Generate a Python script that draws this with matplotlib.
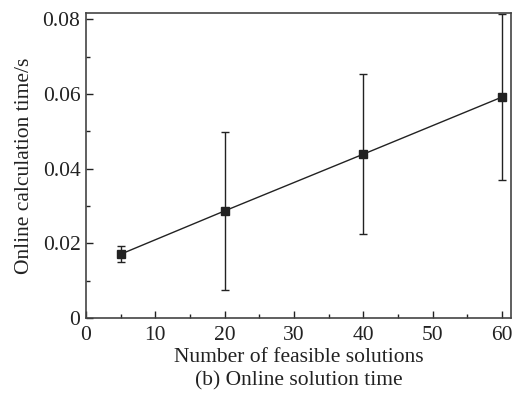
import numpy as np
from matplotlib import pyplot as plt

plt.rcParams['font.family'] = ['Liberation Serif', 'DejaVu Serif']

n = np.array([5, 20, 40, 60])
t = np.array([0.0171, 0.0287, 0.0439, 0.0592])
err = np.array([0.0021, 0.0211, 0.0215, 0.0223])

fig = plt.figure(figsize=(5.14, 3.98), dpi=100)
ax = fig.add_axes([0.1673, 0.201, 0.8267, 0.766])

ax.errorbar(n, t, yerr=err, color='#222222', marker='s', markersize=6,
            linewidth=1, elinewidth=1, capsize=3, capthick=1, clip_on=True)

ax.set_xlim(0, 61.3)
ax.set_ylim(0, 0.0817)
ax.set_xticks([0, 10, 20, 30, 40, 50, 60])
ax.set_xticks(np.arange(5, 61, 10), minor=True)
ax.set_yticks([0, 0.02, 0.04, 0.06, 0.08])
ax.set_yticklabels(['0', '0.02', '0.04', '0.06', '0.08'])
ax.set_yticks([0.01, 0.03, 0.05, 0.07], minor=True)
ax.tick_params(which='both', direction='in', labelsize=15.5, width=1, colors='#222222')
ax.tick_params(which='major', length=5, pad=4)
ax.tick_params(axis='x', which='major', pad=6)
ax.tick_params(which='minor', length=3)
for s in ax.spines.values():
    s.set_color('#444444')
    s.set_linewidth(1.2)

ax.set_ylabel("Online calculation time/s", fontsize=15.5, color='#222222', labelpad=6)
ax.set_xlabel("Number of feasible solutions\n(b) Online solution time", fontsize=15.5,
              color='#222222', linespacing=1.3, labelpad=2)

fig.savefig("out.png", dpi=100)
